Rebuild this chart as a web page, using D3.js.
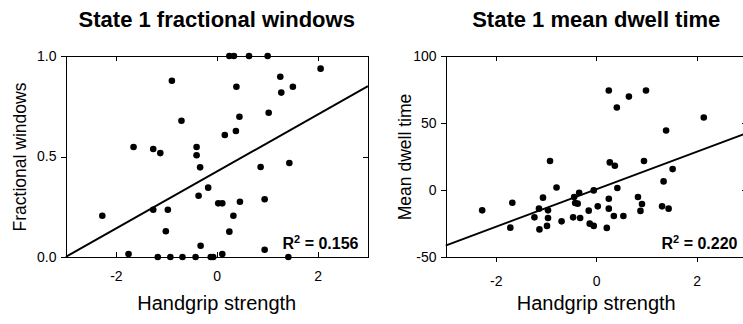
<!DOCTYPE html>
<html>
<head>
<meta charset="utf-8">
<script src="https://cdn.jsdelivr.net/npm/d3@7"></script>
<style>
  html, body { margin: 0; padding: 0; background: #fff; }
  svg { display: block; font-family: "Liberation Sans", Arial, sans-serif; }
  .axis path, .axis line { stroke: #000; stroke-width: 1; shape-rendering: crispEdges; }
  .axis text { font-size: 14px; fill: #000; font-family: "Liberation Sans", Arial, sans-serif; }
</style>
</head>
<body>
<svg id="chart" width="743" height="324"></svg>
<script>
// Handgrip strength (z-scored) per subject, and the two state-1 measures
const fracX = [-2.27, -1.75, -1.65, -1.26, -1.12, -1.26, -1.17, -1.01, -0.97, -0.92,
  -0.89, -0.70, -0.68, -0.42, -0.40, -0.40, -0.36, -0.33, -0.32, -0.17,
  -0.12, -0.07, 0.03, 0.11, 0.11, 0.16, 0.25, 0.25, 0.34, 0.33,
  0.38, 0.39, 0.45, 0.46, 0.64, 0.87, 0.95, 0.95, 1.01, 1.03,
  1.26, 1.28, 1.42, 1.44, 1.51, 2.06];
const fracY = [0.205, 0.015, 0.547, 0.537, 0.517, 0.235, 0.0, 0.128, 0.235, 0.0,
  0.877, 0.678, 0.0, 0.0, 0.547, 0.506, 0.305, 0.446, 0.056, 0.345,
  0.0, 0.0, 0.267, 0.267, 0.015, 0.607, 0.126, 1.0, 1.0, 0.205,
  0.627, 0.847, 0.698, 0.275, 1.0, 0.448, 0.036, 0.287, 1.0, 0.718,
  0.897, 0.818, 0.0, 0.468, 0.847, 0.937];

const dwellX = [-2.27, -1.71, -1.67, -1.23, -1.14, -1.13, -1.06, -0.96, -0.96, -0.98,
  -0.92, -0.79, -0.69, -0.46, -0.44, -0.42, -0.37, -0.34, -0.32, -0.15,
  -0.13, -0.05, -0.05, 0.03, 0.21, 0.25, 0.25, 0.25, 0.27, 0.37,
  0.35, 0.41, 0.42, 0.54, 0.65, 0.83, 0.88, 0.91, 0.95, 0.99,
  1.34, 1.31, 1.39, 1.44, 1.52, 2.14];
const dwellY = [-15.2, -28.1, -9.5, -20.4, -13.9, -29.4, -5.7, -15.2, -20.9, -26.8,
  21.6, 1.9, -23.4, -20.4, -5.2, -9.7, -10.2, -2.0, -20.9, -15.4,
  -25.1, -26.8, -0.3, -12.2, -28.3, -6.5, -13.9, 74.2, 20.6, 18.1,
  -19.4, 61.6, 1.5, -19.4, 69.7, -5.2, -15.6, -10.4, 21.6, 74.2,
  6.4, -12.2, 44.4, -13.9, 15.6, 54.1];

// Fitted lines: [intercept, slope]
const fracFit = [0.425, 0.1417];
const dwellFit = [0.5, 14.0];

const fracR2 = "0.156";
const dwellR2 = "0.220";

const xTicks = [-2, 0, 2];
const fracTicks = [0.0, 0.5, 1.0];
const dwellTicks = [-50, 0, 50, 100];

const svg = d3.select("#chart");

function panel(opts) {
  const x = d3.scaleLinear().domain([-3, 3]).range([opts.left, opts.right]);
  const y = d3.scaleLinear().domain(opts.yDomain).range([257, 56]);
  const g = svg.append("g");

  // clip marks to the plot frame
  const clipId = "clip-" + opts.id;
  svg.append("clipPath").attr("id", clipId)
    .append("rect").attr("x", opts.left).attr("y", 56)
    .attr("width", opts.right - opts.left).attr("height", 201);

  // frame axes
  g.append("g").attr("class", "axis").attr("transform", `translate(${opts.left},0)`)
    .call(d3.axisLeft(y).tickValues(opts.yTicks).tickSize(5).tickSizeOuter(0)
      .tickPadding(4).tickFormat(opts.yFormat));
  g.append("g").attr("class", "axis").attr("transform", `translate(${opts.right},0)`)
    .call(d3.axisRight(y).tickValues(opts.yTicks).tickSize(-5).tickSizeOuter(0).tickFormat(""));
  g.append("g").attr("class", "axis").attr("transform", "translate(0,56)")
    .call(d3.axisTop(x).tickValues(xTicks).tickSize(-5).tickSizeOuter(0).tickFormat(""));
  g.append("g").attr("class", "axis").attr("transform", "translate(0,257)")
    .call(d3.axisBottom(x).tickValues(xTicks).tickSize(opts.bottomTick).tickSizeOuter(0)
      .tickPadding(opts.bottomPad).tickFormat(d => String(d)));

  // regression line
  const fit = opts.fit;
  g.append("line")
    .attr("clip-path", `url(#${clipId})`)
    .attr("x1", x(-3)).attr("y1", y(fit[0] + fit[1] * -3))
    .attr("x2", x(3)).attr("y2", y(fit[0] + fit[1] * 3))
    .attr("stroke", "#000").attr("stroke-width", 2);

  // subjects
  g.append("g").selectAll("circle")
    .data(d3.range(opts.xs.length))
    .join("circle")
    .attr("cx", i => x(opts.xs[i]))
    .attr("cy", i => y(opts.ys[i]))
    .attr("r", 3.3)
    .attr("fill", "#000");

  const cx = (opts.left + opts.right) / 2;

  // title
  g.append("text").attr("x", cx).attr("y", 27.3)
    .attr("text-anchor", "middle").attr("font-size", 22).attr("font-weight", "bold")
    .text(opts.title);

  // x label
  g.append("text").attr("x", cx).attr("y", 309.5)
    .attr("text-anchor", "middle").attr("font-size", 20)
    .text("Handgrip strength");

  // y label
  g.append("text")
    .attr("transform", `translate(${opts.yLabelX},157) rotate(-90)`)
    .attr("text-anchor", "middle").attr("font-size", 17.5)
    .text(opts.yLabel);

  // R squared
  const r2 = g.append("text").attr("x", opts.right - 9.5).attr("y", 249)
    .attr("text-anchor", "end").attr("font-size", 16).attr("font-weight", "bold");
  r2.append("tspan").text("R");
  r2.append("tspan").attr("font-size", 11).attr("dy", -6).text("2");
  r2.append("tspan").attr("dy", 6).text(" = " + opts.r2);
}

panel({
  id: "frac", left: 65.5, right: 368, yDomain: [0, 1], yTicks: fracTicks,
  yFormat: d3.format(".1f"), xs: fracX, ys: fracY, fit: fracFit,
  title: "State 1 fractional windows", yLabel: "Fractional windows", yLabelX: 26,
  r2: fracR2, bottomTick: -5, bottomPad: 14
});

panel({
  id: "dwell", left: 445.5, right: 747, yDomain: [-50, 100], yTicks: dwellTicks,
  yFormat: d => String(d), xs: dwellX, ys: dwellY, fit: dwellFit,
  title: "State 1 mean dwell time", yLabel: "Mean dwell time", yLabelX: 411.3,
  r2: dwellR2, bottomTick: 5, bottomPad: 14
});
</script>
</body>
</html>
